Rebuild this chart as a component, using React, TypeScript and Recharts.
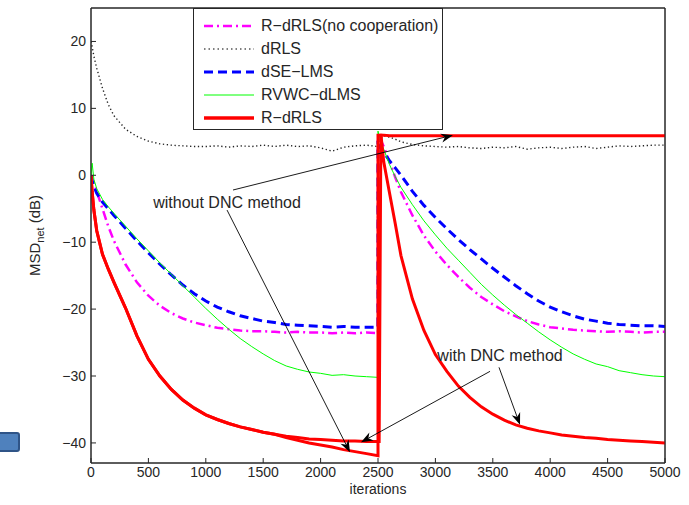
import { LineChart, Line, XAxis, YAxis, ReferenceLine, ReferenceDot, ReferenceArea } from "recharts";

// iteration grid (2500 appears twice: the network changes there)
const iters = [
  0, 10, 25, 50, 100, 150, 200, 300, 400, 500, 600, 700, 800, 900, 1000, 1100, 1200, 1300, 1400, 1500,
  1600, 1700, 1800, 1900, 2000, 2100, 2200, 2300, 2400, 2500,
  2500, 2510, 2525, 2550, 2600, 2650, 2700, 2800, 2900, 3000, 3100, 3200, 3300, 3400, 3500, 3600,
  3700, 3800, 3900, 4000, 4100, 4200, 4300, 4400, 4500, 4600, 4700, 4800, 4900, 5000,
];

const noCoop = [
  0, -0.5, -1.2, -2.4, -5.0, -7.6, -9.8, -13.3, -16.0, -18.0, -19.5, -20.6, -21.4, -22.0, -22.4, -22.8,
  -23.0, -23.2, -23.3, -23.3, -23.4, -23.5, -23.4, -23.5, -23.5, -23.6, -23.5, -23.6, -23.5, -23.6,
  5.6, 5.5, 5.2, 4.3, 2.0, -0.3, -2.5, -6.0, -9.0, -11.4, -13.4, -15.2, -16.8, -18.2, -19.3, -20.3,
  -21.1, -21.8, -22.3, -22.7, -22.9, -23.1, -23.2, -23.3, -23.4, -23.3, -23.4, -23.5, -23.4, -23.4,
];

const dRLS = [
  20, 19.2, 17.8, 16.0, 13.0, 10.6, 8.9, 6.9, 5.8, 5.1, 4.7, 4.5, 4.4, 4.3, 4.3, 4.4,
  4.2, 4.4, 4.3, 4.5, 4.3, 4.5, 4.3, 4.4, 4.1, 3.6, 4.2, 4.4, 4.5, 4.3,
  4.3, 4.8, 5.4, 5.9, 5.7, 5.4, 5.0, 4.6, 4.4, 4.3, 4.2, 4.3, 4.1, 4.0, 4.2, 4.1,
  4.3, 3.9, 4.1, 4.2, 4.0, 4.2, 4.3, 4.0, 4.2, 4.4, 4.3, 4.4, 4.5, 4.5,
];

const dseLMS = [
  0, -0.8, -1.6, -2.7, -4.0, -5.0, -6.0, -7.9, -9.8, -11.6, -13.3, -14.9, -16.4, -17.7, -18.8, -19.7,
  -20.4, -21.0, -21.4, -21.8, -22.0, -22.3, -22.4, -22.5, -22.6, -22.7, -22.6, -22.7, -22.7, -22.7,
  4.6, 4.4, 4.0, 3.4, 2.2, 1.1, 0, -2.4, -4.5, -6.3, -8.0, -9.6, -11.1, -12.5, -13.9, -15.2,
  -16.5, -17.7, -18.8, -19.7, -20.4, -21.0, -21.5, -21.8, -22.1, -22.3, -22.4, -22.5, -22.5, -22.6,
];

const rvwc = [
  0, 1.8, -0.6, -2.0, -3.6, -4.7, -5.7, -7.6, -9.5, -11.3, -13.1, -14.8, -16.5, -18.2, -19.9, -21.5,
  -23.0, -24.4, -25.6, -26.7, -27.7, -28.5, -29.0, -29.4, -29.6, -29.9, -29.8, -30.0, -30.1, -30.2,
  6.6, 5.8, 4.9, 3.9, 1.6, -0.2, -1.8, -4.4, -6.8, -8.9, -10.9, -12.7, -14.5, -16.3, -17.9, -19.4,
  -20.8, -22.1, -23.4, -24.6, -25.7, -26.7, -27.5, -28.2, -28.6, -29.2, -29.5, -29.8, -30.0, -30.1,
];

const rdrlsDNC = [
  0, -2.5, -5.2, -8.3, -11.8, -14.0, -16.0, -19.8, -24.0, -27.5, -30.0, -32.0, -33.6, -34.8, -35.8, -36.5,
  -37.1, -37.6, -38.0, -38.4, -38.7, -39.0, -39.2, -39.4, -39.5, -39.6, -39.7, -39.7, -39.8, -39.8,
  -39.8, -39.8, 6.2, 2.0, -2.6, -7.2, -12.0, -18.5, -23.2, -26.8, -29.3, -31.5, -33.2, -34.6, -35.7, -36.6,
  -37.3, -37.8, -38.2, -38.5, -38.8, -39.0, -39.2, -39.3, -39.5, -39.6, -39.7, -39.8, -39.9, -40.0,
];

const rdrlsNoDNC = [
  0, -2.5, -5.2, -8.3, -11.8, -14.0, -16.0, -19.8, -24.0, -27.5, -30.0, -32.0, -33.6, -34.8, -35.8, -36.5,
  -37.1, -37.6, -38.0, -38.4, -38.7, -39.2, -39.6, -40.0, -40.3, -40.6, -41.0, -41.3, -41.6, -41.9,
  6.0, 6.0, 6.0, 6.0, 5.9, 5.9, 5.9, 5.9, 5.9, 5.9, 5.9, 5.9, 5.9, 5.9, 5.9, 5.9,
  5.9, 5.9, 5.9, 5.9, 5.9, 5.9, 5.9, 5.9, 5.9, 5.9, 5.9, 5.9, 5.9, 5.9,
];

const xTicks = [0, 500, 1000, 1500, 2000, 2500, 3000, 3500, 4000, 4500, 5000];
const yTicks = [-40, -30, -20, -10, 0, 10, 20];
const xDomain = [0, 5000];
const yDomain = [-43, 25];

const legendItems = [
  { name: "R\u2212dRLS(no cooperation)", color: "#ff00ff", width: 2.5, dash: "9 4 2 4" },
  { name: "dRLS", color: "#555", width: 1.6, dash: "1.5 3" },
  { name: "dSE\u2212LMS", color: "#0000ff", width: 3, dash: "9 5" },
  { name: "RVWC\u2212dLMS", color: "#00ff00", width: 1, dash: "" },
  { name: "R\u2212dRLS", color: "#ff0000", width: 3.5, dash: "" },
];

const FONT = "'Liberation Sans', Arial, Helvetica, sans-serif";
const INK = "#262626";

const toPoints = (vals: number[]) => iters.map((x, i) => ({ x, v: vals[i] }));
const fmtTick = (v: number) => (v < 0 ? `\u2212${Math.abs(v)}` : `${v}`);

const ArrowLine = (props: any) => {
  const { x1, y1, x2, y2 } = props;
  const a = Math.atan2(y2 - y1, x2 - x1);
  const len = 12;
  const half = 4.5;
  const c = Math.cos(a);
  const s = Math.sin(a);
  const bx = x2 - len * c;
  const by = y2 - len * s;
  const nx = x2 - len * 0.7 * c;
  const ny = y2 - len * 0.7 * s;
  const pts = [
    [x2, y2],
    [bx + half * s, by - half * c],
    [nx, ny],
    [bx - half * s, by + half * c],
  ]
    .map((p) => p.join(","))
    .join(" ");
  return (
    <g>
      <line x1={x1} y1={y1} x2={nx} y2={ny} stroke="#000" strokeWidth={0.9} />
      <polygon points={pts} fill="#000" />
    </g>
  );
};

const noteText = (text: string) => (p: any) => (
  <text x={p.cx} y={p.cy} textAnchor="middle" dominantBaseline="central" fontSize={16} fill={INK} fontFamily={FONT}>
    {text}
  </text>
);

const YLabel = (props: any) => {
  const vb = props.viewBox;
  const x = vb.x + 40;
  const y = vb.y + vb.height / 2;
  return (
    <text x={x} y={y} transform={`rotate(-90, ${x}, ${y})`} textAnchor="middle" fontSize={15} fill={INK} fontFamily={FONT}>
      MSD
      <tspan fontSize={11} dy={4}>net</tspan>
      <tspan dy={-4}> (dB)</tspan>
    </text>
  );
};

const XLabel = (props: any) => {
  const vb = props.viewBox;
  return (
    <text x={vb.x + vb.width / 2} y={vb.y + 31} textAnchor="middle" fontSize={14} fill={INK} fontFamily={FONT}>
      iterations
    </text>
  );
};

const Legend = () => (
  <div
    style={{
      position: "absolute",
      left: 193,
      top: 8,
      width: 250,
      height: 122,
      boxSizing: "border-box",
      border: `1px solid ${INK}`,
      background: "#fff",
      fontFamily: FONT,
      fontSize: 16,
      color: INK,
      paddingTop: 5,
    }}
  >
    {legendItems.map((it) => (
      <div key={it.name} style={{ display: "flex", alignItems: "center", height: 23 }}>
        <svg width={62} height={10} style={{ marginLeft: 8 }}>
          <line x1={2} y1={5} x2={52} y2={5} stroke={it.color} strokeWidth={it.width} strokeDasharray={it.dash} />
        </svg>
        <span style={{ marginLeft: -3, whiteSpace: "nowrap" }}>{it.name}</span>
      </div>
    ))}
  </div>
);

export default function App() {
  const tickStyle = { fontSize: 14, fill: INK, fontFamily: FONT };
  return (
    <div style={{ position: "absolute", left: 0, top: 0, width: 689, height: 505, background: "#fff" }}>
      <LineChart width={689} height={505} margin={{ top: 7, right: 23, bottom: 0, left: 0 }}>
        <XAxis
          dataKey="x"
          type="number"
          domain={xDomain}
          ticks={xTicks}
          allowDataOverflow
          height={42}
          tickSize={-5}
          tickMargin={9}
          tick={tickStyle}
          stroke={INK}
          label={<XLabel />}
        />
        <XAxis
          xAxisId="top"
          orientation="top"
          dataKey="x"
          type="number"
          domain={xDomain}
          ticks={xTicks}
          allowDataOverflow
          height={1}
          tickSize={-5}
          tick={false}
          stroke={INK}
        />
        <YAxis
          type="number"
          domain={yDomain}
          ticks={yTicks}
          allowDataOverflow
          width={91}
          tickSize={-5}
          tickMargin={10}
          tick={tickStyle}
          tickFormatter={fmtTick}
          stroke={INK}
          label={<YLabel />}
        />
        <YAxis
          yAxisId="right"
          orientation="right"
          type="number"
          domain={yDomain}
          ticks={yTicks}
          allowDataOverflow
          width={1}
          tickSize={-5}
          tick={false}
          stroke={INK}
        />

        <ReferenceArea x1={0} x2={5000} y1={-43} y2={25} fill="none" stroke={INK} strokeWidth={1} ifOverflow="visible" />

        <Line data={toPoints(dRLS)} dataKey="v" stroke="#222" strokeWidth={1.4} strokeDasharray="1.3 2.6" dot={false} activeDot={false} isAnimationActive={false} />
        <Line data={toPoints(noCoop)} dataKey="v" stroke="#ff00ff" strokeWidth={2.5} strokeDasharray="9 4 2 4" dot={false} activeDot={false} isAnimationActive={false} />
        <Line data={toPoints(dseLMS)} dataKey="v" stroke="#0000ff" strokeWidth={3} strokeDasharray="9 5" dot={false} activeDot={false} isAnimationActive={false} />
        <Line data={toPoints(rvwc)} dataKey="v" stroke="#00ff00" strokeWidth={1} dot={false} activeDot={false} isAnimationActive={false} />
        <Line data={toPoints(rdrlsNoDNC)} dataKey="v" stroke="#ff0000" strokeWidth={3} dot={false} activeDot={false} isAnimationActive={false} />
        <Line data={toPoints(rdrlsDNC)} dataKey="v" stroke="#ff0000" strokeWidth={3} dot={false} activeDot={false} isAnimationActive={false} />

        <ReferenceLine segment={[{ x: 1237, y: -2.2 }, { x: 3153, y: 6.0 }]} ifOverflow="visible" shape={ArrowLine} />
        <ReferenceLine segment={[{ x: 1185, y: -5.2 }, { x: 2256, y: -41.4 }]} ifOverflow="visible" shape={ArrowLine} />
        <ReferenceLine segment={[{ x: 3476, y: -29.3 }, { x: 2352, y: -39.9 }]} ifOverflow="visible" shape={ArrowLine} />
        <ReferenceLine segment={[{ x: 3554, y: -28.7 }, { x: 3737, y: -37.3 }]} ifOverflow="visible" shape={ArrowLine} />
        <ReferenceDot x={1185} y={-4.0} r={0} ifOverflow="visible" shape={noteText("without DNC method")} />
        <ReferenceDot x={3563} y={-27.0} r={0} ifOverflow="visible" shape={noteText("with DNC method")} />
      </LineChart>
      <Legend />
      <div
        style={{
          position: "absolute",
          left: -4,
          top: 432,
          width: 24,
          height: 20,
          boxSizing: "border-box",
          background: "#4f81bd",
          border: "2px solid #2f5487",
          borderRadius: 3,
        }}
      />
    </div>
  );
}
